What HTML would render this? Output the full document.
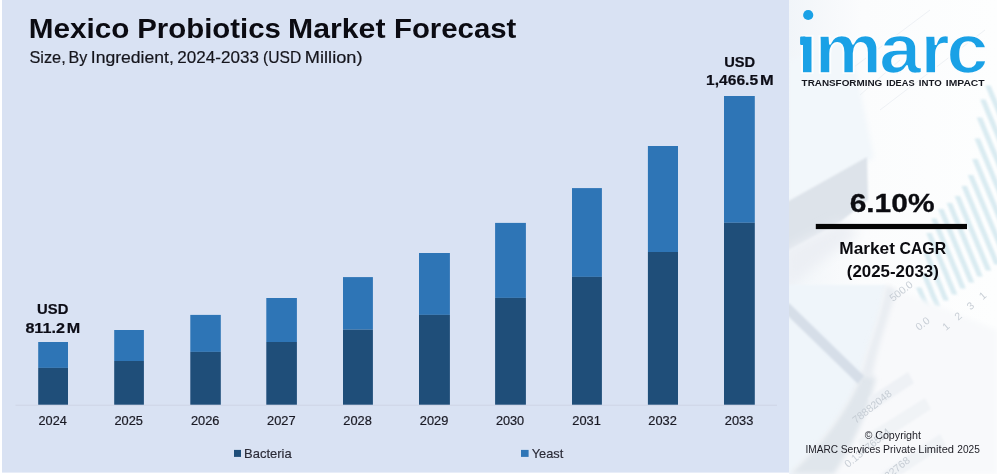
<!DOCTYPE html>
<html lang="en"><head><meta charset="utf-8"><title>Mexico Probiotics Market Forecast</title>
<style>
html,body{margin:0;padding:0;background:#fff;}
body{width:997px;height:476px;overflow:hidden;font-family:"Liberation Sans",sans-serif;}
svg{display:block}
text{font-family:"Liberation Sans",sans-serif;}
</style></head><body>
<svg width="997" height="476" viewBox="0 0 997 476">
<defs>
<filter id="bl6" x="-20%" y="-20%" width="140%" height="140%"><feGaussianBlur stdDeviation="6"/></filter>
<filter id="bl3" x="-20%" y="-20%" width="140%" height="140%"><feGaussianBlur stdDeviation="2.5"/></filter>
<filter id="bl1" x="-20%" y="-20%" width="140%" height="140%"><feGaussianBlur stdDeviation="0.8"/></filter>
<linearGradient id="gtint" x1="0" x2="1" y1="0" y2="0"><stop offset="0" stop-color="#f1f5f9"/><stop offset="0.35" stop-color="#fbfcfd"/><stop offset="1" stop-color="#fdfefe"/></linearGradient>
<clipPath id="rp"><rect x="789" y="0" width="208" height="474"/></clipPath>
<clipPath id="nodot"><rect x="700" y="34" width="300" height="50"/></clipPath>
</defs>
<rect width="997" height="476" fill="#ffffff"/>
<!-- right panel background -->
<g id="rightbg" clip-path="url(#rp)">
<rect x="789" y="0" width="208" height="474" fill="#fbfcfd"/>
<rect x="789" y="0" width="208" height="474" fill="url(#gtint)"/>
<polygon points="789,60 850,40 874,158 789,200" fill="#f2f7fb" filter="url(#bl3)"/>
<polygon points="785,203 867,157 868,200 840,222 785,252" fill="#dde3ea" filter="url(#bl1)"/>
<polygon points="785,250 840,222 860,232 785,290" fill="#eceff4" filter="url(#bl6)"/>
<g fill="#d5e9f0" filter="url(#bl1)" opacity="0.9"><polygon points="916.0,287.5 921.4,287.5 931.9,312.5 926.5,312.5"/><polygon points="921.0,273.0 926.4,273.0 940.4,306.5 935.0,306.5"/><polygon points="923.6,253.0 929.0,253.0 948.9,300.5 943.5,300.5"/><polygon points="926.2,233.0 931.6,233.0 957.4,294.5 952.0,294.5"/><polygon points="931.1,218.5 936.5,218.5 965.9,288.5 960.5,288.5"/><polygon points="938.1,209.0 943.5,209.0 974.3,282.5 968.9,282.5"/><polygon points="946.6,203.0 952.0,203.0 982.8,276.5 977.4,276.5"/><polygon points="954.6,196.0 960.0,196.0 991.3,270.5 985.9,270.5"/><polygon points="961.4,186.0 966.8,186.0 999.8,264.5 994.4,264.5"/><polygon points="967.8,175.0 973.2,175.0 1008.3,258.5 1002.9,258.5"/><polygon points="972.1,159.0 977.5,159.0 1016.8,252.5 1011.4,252.5"/><polygon points="974.5,138.5 979.9,138.5 1025.2,246.5 1019.8,246.5"/><polygon points="976.7,117.5 982.1,117.5 1033.7,240.5 1028.3,240.5"/><polygon points="980.1,99.5 985.5,99.5 1042.2,234.5 1036.8,234.5"/><polygon points="985.2,85.5 990.6,85.5 1050.7,228.5 1045.3,228.5"/></g>
<path d="M785,285 L886,285 C880,320 866,350 861,375 C850,405 825,440 790,474 L785,476 Z" fill="#eff5fa" filter="url(#bl1)"/>
<path d="M886,285 C880,320 866,350 861,375 C850,405 825,440 790,474 L997,474 L997,330 Z" fill="#f8f9fb" filter="url(#bl3)"/>
<path d="M862,372 C851,404 826,440 790,474 L834,474 C853,446 868,412 876,378 Z" fill="#e0e6ec" filter="url(#bl3)"/>
<path d="M886,285 C880,320 866,350 861,375 L872,378 C876,350 888,320 896,290 Z" fill="#e9edf2" filter="url(#bl3)"/>
<polygon points="786,305 789,303 864,376 858,384 786,314" fill="#d6dee8" filter="url(#bl1)"/>
<polygon points="868,398 908,372 914,383 872,411" fill="#eef1f5" filter="url(#bl1)"/>
<polygon points="858,440 925,398 931,409 862,454" fill="#f0f3f6" filter="url(#bl1)"/>
<polygon points="880,474 940,434 946,445 902,474" fill="#f0f3f6" filter="url(#bl1)"/>
<g font-size="10.5" fill="#c3cad2" opacity="0.9"><text transform="translate(893,302) rotate(-38)">500.0</text><text transform="translate(919,331) rotate(-38)">0.0</text><text transform="translate(946,331) rotate(-40)" letter-spacing="3.6">1 2 3 1</text><text transform="translate(856,424) rotate(-38.7)">78882048</text><text transform="translate(848,468) rotate(-39)">0.13476514</text><text transform="translate(888,480) rotate(-39)">32768</text></g>
<g stroke="#eef1f5" stroke-width="1" fill="none"><path d="M850,70 L930,10 M880,110 L985,30 M860,95 L900,60"/></g>
</g>
<!-- left panel -->
<rect id="leftpanel" x="2" y="0" width="787" height="472.6" fill="#d9e2f3"/>
<line x1="15.5" y1="405.2" x2="777" y2="405.2" stroke="#ced4e5" stroke-width="1"/>
<g id="bars">
<rect x="38.2" y="342.0" width="29.8" height="25.9" fill="#2e75b6"/>
<rect x="38.2" y="367.9" width="29.8" height="36.8" fill="#1f4e79"/>
<rect x="114.2" y="330.0" width="29.7" height="31.0" fill="#2e75b6"/>
<rect x="114.2" y="361.0" width="29.7" height="43.7" fill="#1f4e79"/>
<rect x="190.3" y="314.9" width="30.5" height="37.0" fill="#2e75b6"/>
<rect x="190.3" y="351.9" width="30.5" height="52.8" fill="#1f4e79"/>
<rect x="266.3" y="298.0" width="30.6" height="44.0" fill="#2e75b6"/>
<rect x="266.3" y="342.0" width="30.6" height="62.7" fill="#1f4e79"/>
<rect x="343.0" y="277.1" width="29.9" height="52.6" fill="#2e75b6"/>
<rect x="343.0" y="329.7" width="29.9" height="75.0" fill="#1f4e79"/>
<rect x="419.0" y="253.0" width="30.9" height="61.9" fill="#2e75b6"/>
<rect x="419.0" y="314.9" width="30.9" height="89.8" fill="#1f4e79"/>
<rect x="495.1" y="222.9" width="30.8" height="75.0" fill="#2e75b6"/>
<rect x="495.1" y="297.9" width="30.8" height="106.8" fill="#1f4e79"/>
<rect x="572.0" y="188.1" width="29.9" height="88.8" fill="#2e75b6"/>
<rect x="572.0" y="276.9" width="29.9" height="127.8" fill="#1f4e79"/>
<rect x="647.9" y="146.0" width="30.1" height="106.0" fill="#2e75b6"/>
<rect x="647.9" y="252.0" width="30.1" height="152.7" fill="#1f4e79"/>
<rect x="724.0" y="96.0" width="30.8" height="126.8" fill="#2e75b6"/>
<rect x="724.0" y="222.8" width="30.8" height="181.9" fill="#1f4e79"/>
</g>
<rect x="234" y="449.9" width="7" height="7" fill="#1f4e79"/>
<rect x="521" y="449.9" width="7.6" height="7" fill="#2e75b6"/>
<!-- logo -->
<g id="logo">
<text id="imarc" transform="scale(1.085,1)" x="734.40 750.72 810.23 848.24 872.06" y="72.6" font-size="70" font-weight="bold" fill="#1aa1e6" stroke="#fcfdfe" stroke-width="1.7" clip-path="url(#nodot)">imarc</text>
<circle cx="808.2" cy="15" r="5.1" fill="#1aa1e6"/>
<path d="M801.3,36.4 h4 v8.6 h-4 a1.2,1.2 0 0 1 -1.2,-1.2 v-6.2 a1.2,1.2 0 0 1 1.2,-1.2z" fill="#1aa1e6"/>
</g>
<rect x="815.8" y="223.9" width="151.2" height="5.2" fill="#050505"/>
<text id="title" y="37.7" font-size="27.5" font-weight="bold" fill="#0b0b12" ><tspan x="28.84" textLength="100.63" lengthAdjust="spacingAndGlyphs">Mexico</tspan> <tspan x="137.26" textLength="143.63" lengthAdjust="spacingAndGlyphs">Probiotics</tspan> <tspan x="288.11" textLength="97.33" lengthAdjust="spacingAndGlyphs">Market</tspan> <tspan x="393.97" textLength="122.38" lengthAdjust="spacingAndGlyphs">Forecast</tspan></text>
<text id="sub" y="62.7" font-size="17" fill="#15151c" stroke="#15151c" stroke-width="0.2"><tspan x="29.49" textLength="36.23" lengthAdjust="spacingAndGlyphs">Size,</tspan> <tspan x="68.44" textLength="18.76" lengthAdjust="spacingAndGlyphs">By</tspan> <tspan x="90.83" textLength="82.98" lengthAdjust="spacingAndGlyphs">Ingredient,</tspan> <tspan x="177.3" textLength="81.59" lengthAdjust="spacingAndGlyphs">2024-2033</tspan> <tspan x="263.07" textLength="38.17" lengthAdjust="spacingAndGlyphs">(USD</tspan> <tspan x="304.88" textLength="57.56" lengthAdjust="spacingAndGlyphs">Million)</tspan></text>
<text id="usd1" y="313.7" font-size="15" font-weight="bold" fill="#0d0d16" stroke="#0d0d16" stroke-width="0.2"><tspan x="37.11" textLength="31.21" lengthAdjust="spacingAndGlyphs">USD</tspan></text>
<text id="val1" y="332.5" font-size="15" font-weight="bold" fill="#0d0d16" stroke="#0d0d16" stroke-width="0.2"><tspan x="25.4" textLength="39.51" lengthAdjust="spacingAndGlyphs">811.2</tspan> <tspan x="66.79" textLength="13.44" lengthAdjust="spacingAndGlyphs">M</tspan></text>
<text id="usd2" y="66.8" font-size="15" font-weight="bold" fill="#0d0d16" stroke="#0d0d16" stroke-width="0.2"><tspan x="724.21" textLength="31.0" lengthAdjust="spacingAndGlyphs">USD</tspan></text>
<text id="val2" y="85.1" font-size="15" font-weight="bold" fill="#0d0d16" stroke="#0d0d16" stroke-width="0.2"><tspan x="706.13" textLength="51.96" lengthAdjust="spacingAndGlyphs">1,466.5</tspan> <tspan x="759.97" textLength="13.68" lengthAdjust="spacingAndGlyphs">M</tspan></text>
<text id="y2024" y="424.9" font-size="12.5" fill="#1a1a24" stroke="#1a1a24" stroke-width="0.2"><tspan x="38.5" textLength="28.31" lengthAdjust="spacingAndGlyphs">2024</tspan></text>
<text id="y2025" y="424.9" font-size="12.5" fill="#1a1a24" stroke="#1a1a24" stroke-width="0.2"><tspan x="114.45" textLength="28.52" lengthAdjust="spacingAndGlyphs">2025</tspan></text>
<text id="y2026" y="424.9" font-size="12.5" fill="#1a1a24" stroke="#1a1a24" stroke-width="0.2"><tspan x="190.95" textLength="28.52" lengthAdjust="spacingAndGlyphs">2026</tspan></text>
<text id="y2027" y="424.9" font-size="12.5" fill="#1a1a24" stroke="#1a1a24" stroke-width="0.2"><tspan x="267.0" textLength="28.52" lengthAdjust="spacingAndGlyphs">2027</tspan></text>
<text id="y2028" y="424.9" font-size="12.5" fill="#1a1a24" stroke="#1a1a24" stroke-width="0.2"><tspan x="343.35" textLength="28.52" lengthAdjust="spacingAndGlyphs">2028</tspan></text>
<text id="y2029" y="424.9" font-size="12.5" fill="#1a1a24" stroke="#1a1a24" stroke-width="0.2"><tspan x="419.85" textLength="28.52" lengthAdjust="spacingAndGlyphs">2029</tspan></text>
<text id="y2030" y="424.9" font-size="12.5" fill="#1a1a24" stroke="#1a1a24" stroke-width="0.2"><tspan x="495.9" textLength="28.31" lengthAdjust="spacingAndGlyphs">2030</tspan></text>
<text id="y2031" y="424.9" font-size="12.5" fill="#1a1a24" stroke="#1a1a24" stroke-width="0.2"><tspan x="572.35" textLength="28.52" lengthAdjust="spacingAndGlyphs">2031</tspan></text>
<text id="y2032" y="424.9" font-size="12.5" fill="#1a1a24" stroke="#1a1a24" stroke-width="0.2"><tspan x="648.35" textLength="28.52" lengthAdjust="spacingAndGlyphs">2032</tspan></text>
<text id="y2033" y="424.9" font-size="12.5" fill="#1a1a24" stroke="#1a1a24" stroke-width="0.2"><tspan x="724.8" textLength="28.52" lengthAdjust="spacingAndGlyphs">2033</tspan></text>
<text id="leg1" y="457.7" font-size="12.6" fill="#2a2a36" stroke="#2a2a36" stroke-width="0.15"><tspan x="244.09" textLength="47.63" lengthAdjust="spacingAndGlyphs">Bacteria</tspan></text>
<text id="leg2" y="457.7" font-size="12.6" fill="#2a2a36" stroke="#2a2a36" stroke-width="0.15"><tspan x="531.7" textLength="31.66" lengthAdjust="spacingAndGlyphs">Yeast</tspan></text>
<text id="cagr" y="212.2" font-size="26" font-weight="bold" fill="#0b0b10" stroke="#0b0b10" stroke-width="0.3"><tspan x="849.66" textLength="84.86" lengthAdjust="spacingAndGlyphs">6.10%</tspan></text>
<text id="mc" y="253.9" font-size="15.7" font-weight="bold" fill="#0b0b10" ><tspan x="839.32" textLength="55.66" lengthAdjust="spacingAndGlyphs">Market</tspan> <tspan x="899.51" textLength="46.6" lengthAdjust="spacingAndGlyphs">CAGR</tspan></text>
<text id="yr" y="276.6" font-size="15.9" font-weight="bold" fill="#0b0b10" ><tspan x="846.81" textLength="92.0" lengthAdjust="spacingAndGlyphs">(2025-2033)</tspan></text>
<text id="cp1" y="438.8" font-size="10.2" fill="#1d1d25" ><tspan x="864.8" textLength="7.63" lengthAdjust="spacingAndGlyphs">©</tspan> <tspan x="875.2" textLength="45.76" lengthAdjust="spacingAndGlyphs">Copyright</tspan></text>
<text id="cp2" y="453.0" font-size="10.2" fill="#1d1d25" ><tspan x="805.51" textLength="32.54" lengthAdjust="spacingAndGlyphs">IMARC</tspan> <tspan x="840.68" textLength="39.65" lengthAdjust="spacingAndGlyphs">Services</tspan> <tspan x="883.08" textLength="32.64" lengthAdjust="spacingAndGlyphs">Private</tspan> <tspan x="918.23" textLength="35.79" lengthAdjust="spacingAndGlyphs">Limited</tspan> <tspan x="957.32" textLength="22.59" lengthAdjust="spacingAndGlyphs">2025</tspan></text>
<text id="tag" y="86.3" font-size="9.7" font-weight="bold" fill="#15171f" ><tspan x="801.6" textLength="80.68" lengthAdjust="spacingAndGlyphs">TRANSFORMING</tspan> <tspan x="886.32" textLength="28.32" lengthAdjust="spacingAndGlyphs">IDEAS</tspan> <tspan x="918.8" textLength="22.87" lengthAdjust="spacingAndGlyphs">INTO</tspan> <tspan x="945.86" textLength="38.76" lengthAdjust="spacingAndGlyphs">IMPACT</tspan></text>
</svg>
</body></html>
